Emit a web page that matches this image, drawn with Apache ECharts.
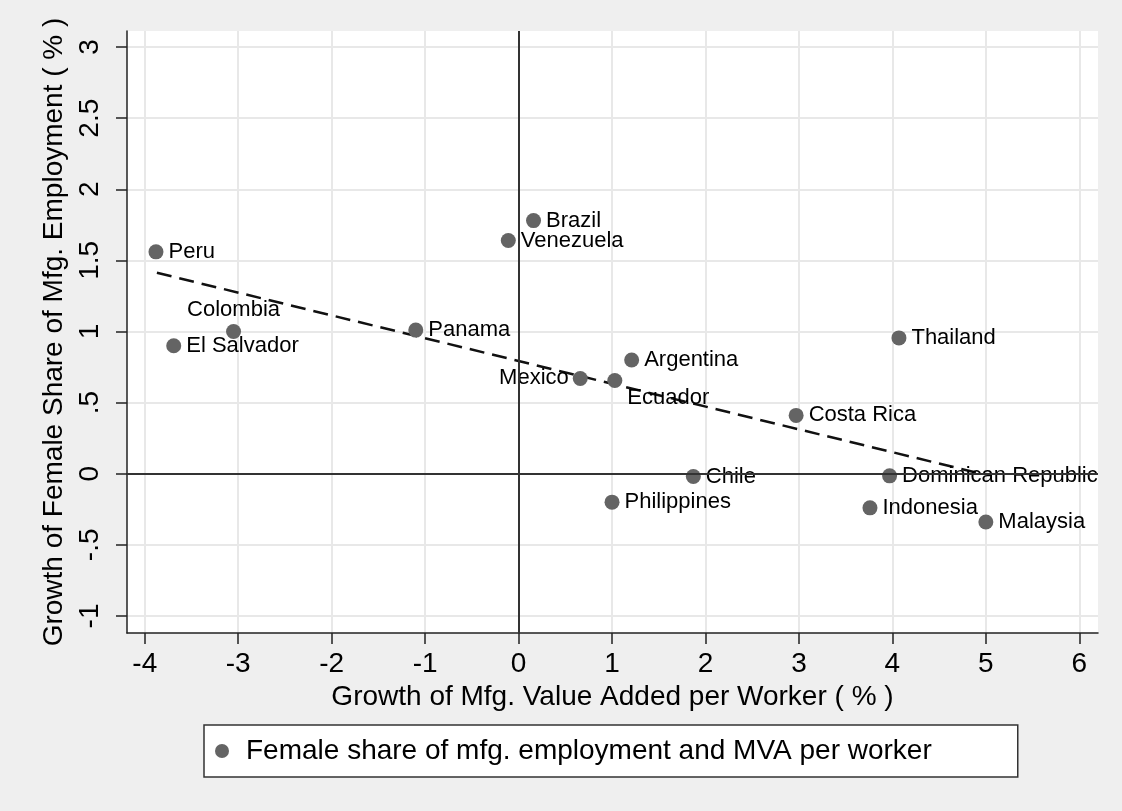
<!DOCTYPE html>
<html>
<head>
<meta charset="utf-8">
<script src="https://cdn.jsdelivr.net/npm/echarts@6/dist/echarts.min.js"></script>
<style>
  html, body {margin: 0; padding: 0; background: #efefef;}
  #chart {width: 1122px; height: 811px;}
</style>
</head>
<body>
<div id="chart"></div>
<script>
// values
var countries = ['Peru', 'El Salvador', 'Colombia', 'Panama', 'Venezuela', 'Brazil', 'Mexico', 'Ecuador',
    'Argentina', 'Philippines', 'Chile', 'Costa Rica', 'Indonesia', 'Dominican Republic', 'Thailand', 'Malaysia'];
var mvaGrowth = [-3.88, -3.69, -3.05, -1.10, -0.11, 0.16, 0.66, 1.03, 1.21, 1.00, 1.87, 2.97, 3.76, 3.97, 4.07, 5.00];
var femaleGrowth = [1.56, 0.90, 1.00, 1.01, 1.64, 1.78, 0.67, 0.655, 0.80, -0.20, -0.02, 0.41, -0.24, -0.015, 0.955, -0.34];

// fitted line end points
var fitX = [-3.87, 4.915];
var fitY = [1.413, 0.005];

var xTicks = [-4, -3, -2, -1, 0, 1, 2, 3, 4, 5, 6];
var yTicks = [-1, -0.5, 0, 0.5, 1, 1.5, 2, 2.5, 3];

var seriesName = 'Female share of mfg. employment and MVA per worker';
var xTitle = 'Growth of Mfg. Value Added per Worker ( % )';
var yTitle = 'Growth of Female Share of Mfg. Employment ( % )';

var font = "'Liberation Sans', Arial, Helvetica, sans-serif";

// label placement that differs from the default (right of the point)
var labelPlace = {
    'Colombia': {position: 'top', distance: 3},
    'Mexico': {position: 'left', distance: 4},
    'Ecuador': {position: 'right', distance: 5, offset: [0, 17]}
};

var points = countries.map(function (c, i) {
    var item = {name: c, value: [mvaGrowth[i], femaleGrowth[i]]};
    if (labelPlace[c]) item.label = labelPlace[c];
    return item;
});

var fitLine = fitX.map(function (x, i) {
    return [x, fitY[i]];
});

function yFmt(v) {
    if (v == 0) return '0';
    return String(v).replace('0.', '.');
}

var myChart = echarts.init(document.getElementById('chart'), null, {renderer: 'canvas'});

var option = {
    backgroundColor: '#efefef',
    animation: false,
    textStyle: {fontFamily: font},
    grid: {
        left: 127, right: 24, top: 31, bottom: 178,
        show: true, backgroundColor: '#ffffff', borderWidth: 0
    },
    legend: {
        data: [seriesName],
        left: 204, top: 725,
        orient: 'horizontal',
        icon: 'circle',
        itemWidth: 14, itemHeight: 14,
        padding: [12, 86, 12, 11],
        backgroundColor: '#ffffff',
        borderColor: '#333333', borderWidth: 1.5, borderRadius: 0,
        selectedMode: false,
        itemStyle: {opacity: 1},
        textStyle: {fontSize: 28, color: '#000', fontFamily: font, padding: [0, 0, 0, 12]}
    },
    xAxis: {
        type: 'value',
        min: -4.19, max: 6.2,
        name: xTitle,
        nameLocation: 'middle',
        nameGap: 47,
        nameTextStyle: {fontSize: 28, color: '#000', fontFamily: font},
        axisLine: {show: true, onZero: false, lineStyle: {color: '#222', width: 1.5}},
        axisTick: {show: true, customValues: xTicks, length: 11, lineStyle: {color: '#222', width: 1.5}},
        axisLabel: {customValues: xTicks, fontSize: 28, color: '#000', margin: 17, fontFamily: font},
        splitLine: {show: true, lineStyle: {color: '#e8e8e8', width: 2}}
    },
    yAxis: {
        type: 'value',
        min: -1.12, max: 3.113,
        name: yTitle,
        nameLocation: 'middle',
        nameGap: 55,
        nameTextStyle: {fontSize: 28, color: '#000', fontFamily: font},
        axisLine: {show: true, onZero: false, lineStyle: {color: '#222', width: 1.5}},
        axisTick: {show: true, customValues: yTicks, length: 11, lineStyle: {color: '#222', width: 1.5}},
        axisLabel: {customValues: yTicks, fontSize: 28, color: '#000', rotate: 90, margin: 23,
            formatter: yFmt, fontFamily: font},
        splitLine: {show: true, lineStyle: {color: '#e8e8e8', width: 2}}
    },
    series: [
        {
            name: 'fit',
            type: 'line',
            data: fitLine,
            symbol: 'none',
            silent: true,
            z: 3,
            lineStyle: {color: '#111', width: 2.5, type: [15, 8]}
        },
        {
            name: seriesName,
            type: 'scatter',
            data: points,
            symbol: 'circle',
            symbolSize: 15,
            z: 4,
            itemStyle: {color: '#646464', opacity: 1},
            label: {
                show: true,
                position: 'right',
                distance: 5,
                formatter: '{b}',
                fontSize: 22,
                color: '#000',
                opacity: 1,
                fontFamily: font
            },
            markLine: {
                silent: true,
                symbol: 'none',
                label: {show: false},
                lineStyle: {color: '#333', width: 2, type: 'solid', opacity: 1},
                data: [{xAxis: 0}, {yAxis: 0}]
            }
        }
    ]
};

myChart.setOption(option);
</script>
</body>
</html>
